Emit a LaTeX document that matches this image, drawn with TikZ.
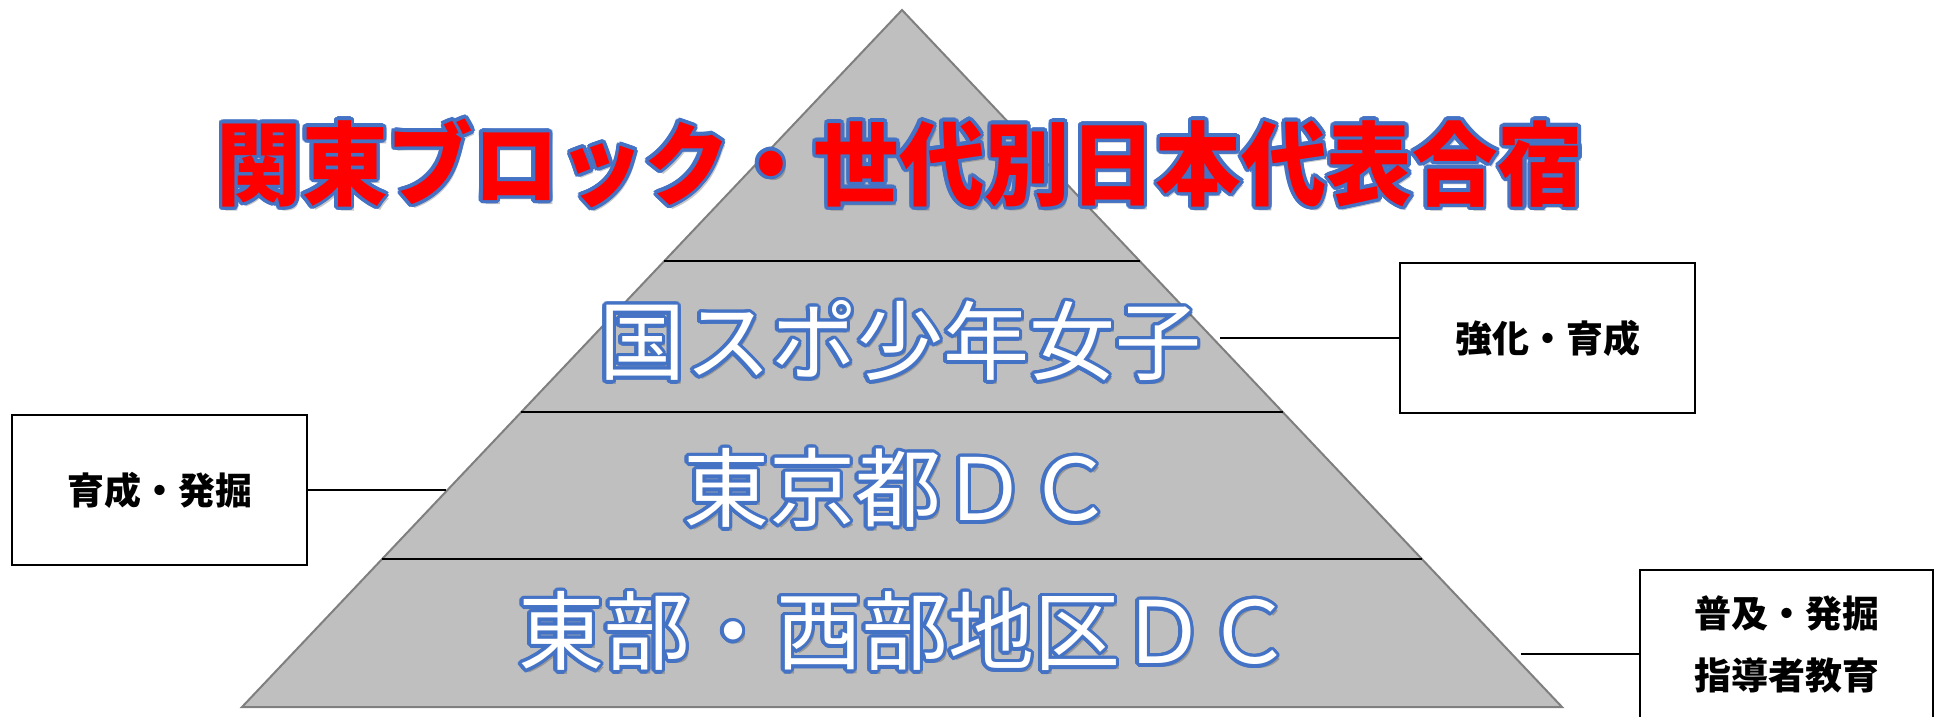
\documentclass[tikz,border=0pt]{standalone}
\usepackage{fontspec}
\newfontfamily\jp{Noto Sans CJK JP}
\newfontfamily\jptitle{Noto Sans CJK JP}[FakeStretch=0.94]
\usetikzlibrary{calc}
\definecolor{pyrfill}{HTML}{BFBFBF}
\definecolor{pyredge}{HTML}{7F7F7F}
\definecolor{olblue}{HTML}{4472C4}
\definecolor{tred}{HTML}{FF0000}
\tikzset{
  layerline/.style={draw=black, line width=1.5pt},
  pyr/.style={fill=pyrfill, draw=pyredge, line width=2pt, line join=miter},
  sidebox/.style={draw=black, line width=2.5pt, fill=white, minimum width=295pt, minimum height=150pt, inner sep=0pt, font=\jp\bfseries\fontsize{37}{62}\selectfont, align=center},
  conn/.style={draw=black, line width=2pt},
  titletext/.style={font=\jptitle\bfseries\fontsize{91}{91}\selectfont, inner sep=0pt},
  leveltext/.style={font=\jp\fontsize{86}{86}\selectfont, inner sep=0pt},
}
% #1 name, #2 position, #3 style, #4 fill colour, #5 text
\newcommand\outtext[5]{%
  \node[#3, text=black, opacity=0.22] at ($#2+(3,4)$) {#5};
  \foreach \a in {0,20,...,340}{\node[#3, text=olblue] at ($#2+(\a:3.5)$) {#5};}
  \node[#3, text=#4] (#1) at #2 {#5};
}
\begin{document}
\begin{tikzpicture}[x=1pt,y=-1pt]
\useasboundingbox (0,0) rectangle (1938,716);
\coordinate (apex) at (902,10);
\coordinate (bl) at (242,707);
\coordinate (br) at (1562,707);
\draw[pyr] (apex) -- (br) -- (bl) -- cycle;
\coordinate (l1) at ($(apex)!0.3601!(bl)$);
\coordinate (r1) at ($(apex)!0.3601!(br)$);
\coordinate (l2) at ($(apex)!0.5768!(bl)$);
\coordinate (r2) at ($(apex)!0.5768!(br)$);
\coordinate (l3) at ($(apex)!0.7877!(bl)$);
\coordinate (r3) at ($(apex)!0.7877!(br)$);
\draw[layerline] (l1) -- (r1);
\draw[layerline] (l2) -- (r2);
\draw[layerline] (l3) -- (r3);

\outtext{title}{(900,163)}{titletext}{tred}{関東ブロック・世代別日本代表合宿}
\outtext{lev1}{(900,341)}{leveltext}{white}{国スポ少年女子}
\outtext{lev2}{(898,488)}{leveltext}{white}{東京都ＤＣ}
\outtext{lev3}{(905,631)}{leveltext}{white}{東部・西部地区ＤＣ}

\node[sidebox] (rbox) at (1547.5,338) {強化・育成};
\node[sidebox] (lbox) at (159.5,490) {育成・発掘};
\node[sidebox, minimum width=293pt, minimum height=148pt] (bbox) at (1786.5,644) {普及・発掘\\指導者教育};

\coordinate (rc) at (1220,338);
\coordinate (lc) at (446,490);
\coordinate (bc) at (1521,654);
\draw[conn] (rc) -- (rbox.west);
\draw[conn] (lbox.east) -- (lc);
\draw[conn] (bc) -- (bc -| bbox.west);
\end{tikzpicture}
\end{document}
